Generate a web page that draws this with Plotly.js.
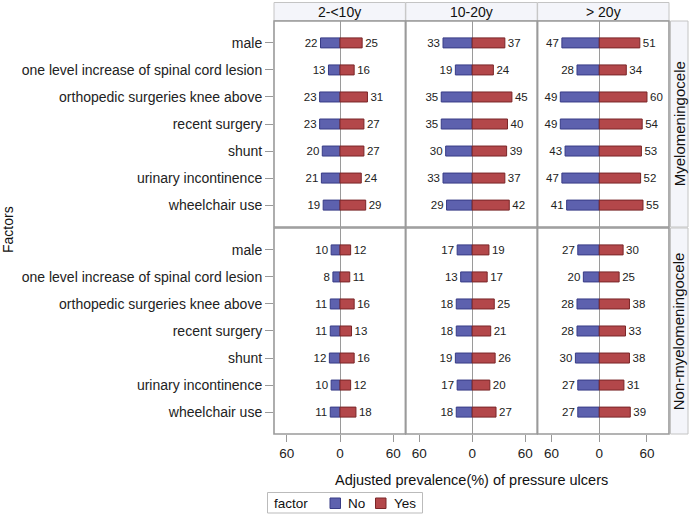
<!DOCTYPE html>
<html>
<head>
<meta charset="utf-8">
<script src="https://cdn.plot.ly/plotly-3.0.1.min.js"></script>
<style>html,body{margin:0;padding:0;background:#fff;}#chart{width:690px;height:515px;}</style>
</head>
<body>
<div id="chart"></div>
<script>
const factors = ["male","one level increase of spinal cord lesion","orthopedic surgeries knee above","recent surgery","shunt","urinary incontinence","wheelchair use"];
const ageGroups = ["2-<10y","10-20y","> 20y"];
const groups = ["Myelomeningocele","Non-myelomeningocele"];
const legendLabels = ["No","Yes"];

// Myelomeningocele
const myeloNo_2_10 = [22,13,23,23,20,21,19];
const myeloYes_2_10 = [25,16,31,27,27,24,29];
const myeloNo_10_20 = [33,19,35,35,30,33,29];
const myeloYes_10_20 = [37,24,45,40,39,37,42];
const myeloNo_20 = [47,28,49,49,43,47,41];
const myeloYes_20 = [51,34,60,54,53,52,55];
// Non-myelomeningocele
const nonNo_2_10 = [10,8,11,11,12,10,11];
const nonYes_2_10 = [12,11,16,13,16,12,18];
const nonNo_10_20 = [17,13,18,18,19,17,18];
const nonYes_10_20 = [19,17,25,21,26,20,27];
const nonNo_20 = [27,20,28,28,30,27,27];
const nonYes_20 = [30,25,38,33,38,31,39];

const xTickVals = [-60,0,60];
const xTickText = ["60","0","60"];

const FONT = '"Liberation Sans", Arial, sans-serif';
const blue = '#5d61ae', blueLine = '#383c86';
const red = '#b3474a', redLine = '#7a2628';

const panels = [
  {no: myeloNo_2_10, yes: myeloYes_2_10, xa: 'x', ya: 'y2'},
  {no: myeloNo_10_20, yes: myeloYes_10_20, xa: 'x2', ya: 'y2'},
  {no: myeloNo_20, yes: myeloYes_20, xa: 'x3', ya: 'y2'},
  {no: nonNo_2_10, yes: nonYes_2_10, xa: 'x', ya: 'y'},
  {no: nonNo_10_20, yes: nonYes_10_20, xa: 'x2', ya: 'y'},
  {no: nonNo_20, yes: nonYes_20, xa: 'x3', ya: 'y'}
];

const traces = [];
panels.forEach((p, i) => {
  traces.push({
    type: 'bar', orientation: 'h', name: legendLabels[0], showlegend: false,
    y: factors, x: p.no.map(v => -v), text: p.no.map(String),
    textposition: 'outside', constraintext: 'none', cliponaxis: false,
    textfont: {family: FONT, size: 11.5, color: '#222'},
    marker: {color: blue, line: {color: blueLine, width: 1}},
    width: 0.37, xaxis: p.xa, yaxis: p.ya, hoverinfo: 'skip'
  });
  traces.push({
    type: 'bar', orientation: 'h', name: legendLabels[1], showlegend: false,
    y: factors, x: p.yes, text: p.yes.map(String),
    textposition: 'outside', constraintext: 'none', cliponaxis: false,
    textfont: {family: FONT, size: 11.5, color: '#222'},
    marker: {color: red, line: {color: redLine, width: 1}},
    width: 0.37, xaxis: p.xa, yaxis: p.ya, hoverinfo: 'skip'
  });
});

const colDom = [[0, 0.3326], [0.3337, 0.6663], [0.6674, 1]];
const rowTop = [0.5012, 1], rowBot = [0, 0.4988];

function xAxis(dom, range) {
  return {
    domain: dom, range: range, anchor: 'y', tickmode: 'array', tickvals: xTickVals, ticktext: xTickText,
    ticks: 'outside', ticklen: 7, tickcolor: '#999', tickwidth: 1,
    showgrid: false, zeroline: true, zerolinecolor: '#9a9a9a', zerolinewidth: 1,
    showline: false, tickfont: {family: FONT, size: 13.5, color: '#222'}, fixedrange: true
  };
}
function yAxis(dom) {
  return {
    domain: dom, type: 'category', categoryarray: factors, categoryorder: 'array',
    range: [6.81, -0.81], anchor: 'x', ticks: 'outside', ticklen: 8, tickcolor: '#999',
    showgrid: false, zeroline: false, showline: false,
    tickfont: {family: FONT, size: 14, color: '#222'}, fixedrange: true
  };
}

const px = v => (v - 274) / 395;
const py = v => (434 - v) / 413;

const shapes = [];
const annotations = [];
// header strips
const hTop = py(2.5), hBot = py(20.5);
ageGroups.forEach((g, i) => {
  shapes.push({type: 'rect', xref: 'paper', yref: 'paper', x0: colDom[i][0], x1: colDom[i][1], y0: hBot, y1: hTop,
    fillcolor: '#f4f5fa', line: {color: '#c4c4c4', width: 1}, layer: 'below'});
  annotations.push({xref: 'paper', yref: 'paper', x: (colDom[i][0] + colDom[i][1]) / 2, y: (hTop + hBot) / 2,
    text: g, showarrow: false, font: {family: FONT, size: 14, color: '#111'}, xanchor: 'center', yanchor: 'middle'});
});
// right strips
const sL = px(670.5), sR = px(688);
[rowTop, rowBot].forEach((r, i) => {
  shapes.push({type: 'rect', xref: 'paper', yref: 'paper', x0: sL, x1: sR, y0: r[0], y1: r[1],
    fillcolor: '#f4f5fa', line: {color: '#c4c4c4', width: 1}, layer: 'below'});
  annotations.push({xref: 'paper', yref: 'paper', x: (sL + sR) / 2, y: (r[0] + r[1]) / 2, text: groups[i],
    textangle: -90, showarrow: false, font: {family: FONT, size: 15, color: '#111'}, xanchor: 'center', yanchor: 'middle'});
});
// panel frames
colDom.forEach(c => {
  [rowTop, rowBot].forEach(r => {
    shapes.push({type: 'rect', xref: 'paper', yref: 'paper', x0: c[0], x1: c[1], y0: r[0], y1: r[1],
      line: {color: '#9a9a9a', width: 1.6}, fillcolor: 'rgba(0,0,0,0)'});
  });
});
annotations.push({xref: 'paper', yref: 'paper', x: px(8), y: py(230), text: 'Factors', textangle: -90, showarrow: false,
  font: {family: FONT, size: 14, color: '#111'}, xanchor: 'center', yanchor: 'middle'});
annotations.push({xref: 'paper', yref: 'paper', x: 0.5, y: py(480), text: 'Adjusted prevalence(%) of pressure ulcers',
  showarrow: false, font: {family: FONT, size: 14.5, color: '#111'}, xanchor: 'center', yanchor: 'middle'});

// legend (drawn as decoration)
shapes.push({type: 'rect', xref: 'paper', yref: 'paper', x0: px(267.5), x1: px(422.5), y0: py(513), y1: py(492.5),
  line: {color: '#bbb', width: 1}, fillcolor: '#fff'});
shapes.push({type: 'rect', xref: 'paper', yref: 'paper', x0: px(330), x1: px(340.5), y0: py(508.5), y1: py(498),
  line: {color: blueLine, width: 1}, fillcolor: blue});
shapes.push({type: 'rect', xref: 'paper', yref: 'paper', x0: px(375.5), x1: px(386), y0: py(508.5), y1: py(498),
  line: {color: redLine, width: 1}, fillcolor: red});
annotations.push({xref: 'paper', yref: 'paper', x: px(272), y: py(503), text: 'factor', showarrow: false,
  font: {family: FONT, size: 13.5, color: '#111'}, xanchor: 'left', yanchor: 'middle'});
annotations.push({xref: 'paper', yref: 'paper', x: px(346), y: py(503), text: legendLabels[0], showarrow: false,
  font: {family: FONT, size: 13.5, color: '#111'}, xanchor: 'left', yanchor: 'middle'});
annotations.push({xref: 'paper', yref: 'paper', x: px(391.5), y: py(503), text: legendLabels[1], showarrow: false,
  font: {family: FONT, size: 13.5, color: '#111'}, xanchor: 'left', yanchor: 'middle'});

const layout = {
  width: 690, height: 515,
  margin: {l: 274, r: 21, t: 21, b: 81, pad: 0},
  paper_bgcolor: '#fff', plot_bgcolor: '#fff',
  barmode: 'overlay', bargap: 0,
  font: {family: FONT, size: 12, color: '#222'},
  xaxis: xAxis(colDom[0], [-74.5, 73.8]),
  xaxis2: xAxis(colDom[1], [-75.1, 73.6]),
  xaxis3: xAxis(colDom[2], [-77.5, 87.7]),
  yaxis: yAxis(rowBot),
  yaxis2: yAxis(rowTop),
  showlegend: false,
  shapes: shapes,
  annotations: annotations
};

Plotly.newPlot('chart', traces, layout, {displayModeBar: false, staticPlot: true});
</script>
</body>
</html>
